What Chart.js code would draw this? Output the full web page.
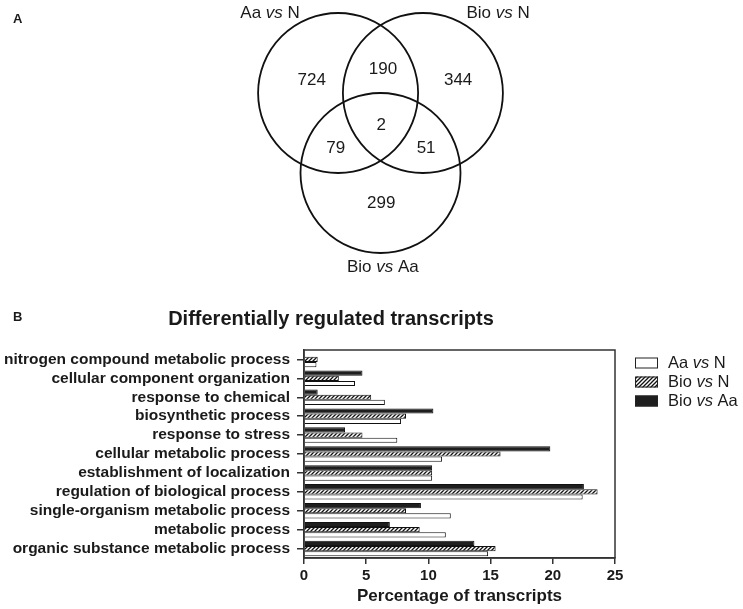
<!DOCTYPE html>
<html>
<head>
<meta charset="utf-8">
<script src="https://cdn.jsdelivr.net/npm/chart.js@4.4.1/dist/chart.umd.min.js"></script>
<style>
  html, body { margin: 0; padding: 0; background: #fff; }
  #page { position: relative; width: 743px; height: 609px; overflow: hidden; }
  #venn { position: absolute; left: 0; top: 0; }
  #bars { position: absolute; left: 0; top: 290px; }
</style>
</head>
<body>
<div id="page">
  <canvas id="venn" width="743" height="290"></canvas>
  <canvas id="bars" width="743" height="319"></canvas>
</div>
<script>
// ---- panel A: Venn diagram (units = circle radius) ----
const VENN_SETS = ['Aa vs N', 'Bio vs N', 'Bio vs Aa'];
const VENN_CX = [-0.53, 0.53, 0];
const VENN_CY = [0.5, 0.5, -0.5];
const VENN_SET_LABEL_X = [-1.38, 1.47, 0.03];
const VENN_SET_LABEL_Y = [1.5, 1.5, -1.675];
const VENN_COUNTS = [724, 190, 344, 2, 79, 51, 299];
const VENN_COUNT_X = [-0.86, 0.03, 0.97, 0.01, -0.56, 0.57, 0.01];
const VENN_COUNT_Y = [0.66, 0.79, 0.66, 0.09, -0.19, -0.19, -0.875];

// ---- panel B: bars ----
const CATEGORIES = [
  'nitrogen compound metabolic process',
  'cellular component organization',
  'response to chemical',
  'biosynthetic process',
  'response to stress',
  'cellular metabolic process',
  'establishment of localization',
  'regulation of biological process',
  'single-organism metabolic process',
  'metabolic process',
  'organic substance metabolic process'
];
const SERIES_NAMES = ['Aa vs N', 'Bio vs N', 'Bio vs Aa'];
const AA_VS_N = [1.0, 4.1, 6.5, 7.8, 7.5, 11.1, 10.3, 22.4, 11.8, 11.4, 14.8];
const BIO_VS_N = [1.1, 2.8, 5.4, 8.2, 4.7, 15.8, 10.3, 23.6, 8.2, 9.3, 15.4];
const BIO_VS_AA = [0, 4.7, 1.1, 10.4, 3.3, 19.8, 10.3, 22.5, 9.4, 6.9, 13.7];
const X_TICKS = [0, 5, 10, 15, 20, 25];

const FONT = '"Liberation Sans", Arial, Helvetica, sans-serif';
const INK = '#1a1a1a';
Chart.defaults.font.family = FONT;
Chart.defaults.color = INK;

// draws "X vs Y" with the "vs" in italics
function draw_vs_text(ctx, text, x, y, size, weight, align){
  let parts = text.split(' vs ');
  let pieces = [[parts[0] + ' ', 'normal'], ['vs', 'italic'], [' ' + parts[1], 'normal']];
  let widths = pieces.map(p => {
    ctx.font = p[1] + ' ' + weight + ' ' + size + 'px ' + FONT;
    return ctx.measureText(p[0]).width;
  });
  let total = widths.reduce((a, b) => a + b, 0);
  let cx = align == 'center' ? x - total / 2 : x;
  ctx.textAlign = 'left';
  ctx.textBaseline = 'middle';
  pieces.forEach((p, i) => {
    ctx.font = p[1] + ' ' + weight + ' ' + size + 'px ' + FONT;
    ctx.fillText(p[0], cx, y);
    cx += widths[i];
  });
}

function hatch_pattern(){
  let c = document.createElement('canvas');
  c.width = 4; c.height = 4;
  let g = c.getContext('2d');
  g.fillStyle = '#fff';
  g.fillRect(0, 0, 4, 4);
  g.strokeStyle = '#111';
  g.lineWidth = 1.3;
  g.beginPath();
  g.moveTo(-1, 5); g.lineTo(5, -1);
  g.moveTo(-1, 1); g.lineTo(1, -1);
  g.moveTo(3, 5); g.lineTo(5, 3);
  g.stroke();
  return g.createPattern(c, 'repeat');
}

//Venn chart
function venn_chart(){
  const radius_px = (ctx) => {
    let s = ctx.chart.scales.x;
    return Math.abs(s.getPixelForValue(1) - s.getPixelForValue(0));
  };
  const venn_labels = {
    id: 'venn_labels',
    afterDatasetsDraw(chart){
      let ctx = chart.ctx;
      let sx = chart.scales.x, sy = chart.scales.y;
      ctx.save();
      ctx.fillStyle = INK;
      ctx.textAlign = 'center';
      ctx.textBaseline = 'middle';
      ctx.font = '17px ' + FONT;
      VENN_COUNTS.forEach((n, i) => {
        ctx.fillText(String(n), sx.getPixelForValue(VENN_COUNT_X[i]), sy.getPixelForValue(VENN_COUNT_Y[i]));
      });
      VENN_SETS.forEach((name, i) => {
        draw_vs_text(ctx, name, sx.getPixelForValue(VENN_SET_LABEL_X[i]), sy.getPixelForValue(VENN_SET_LABEL_Y[i]), 17, 'normal', 'center');
      });
      ctx.font = 'bold 13px ' + FONT;
      ctx.textAlign = 'left';
      ctx.fillText('A', 13, 19);
      ctx.restore();
    }
  };
  new Chart(document.getElementById('venn'), {
    type: 'scatter',
    data: {
      datasets: [{
        data: VENN_CX.map((x, i) => ({x: x, y: VENN_CY[i]})),
        pointRadius: radius_px,
        pointBorderColor: '#111',
        pointBackgroundColor: 'rgba(0,0,0,0)',
        pointBorderWidth: 1.8,
        clip: false
      }]
    },
    options: {
      responsive: false,
      animation: false,
      events: [],
      layout: { padding: 0 },
      plugins: { legend: { display: false }, tooltip: { enabled: false } },
      scales: {
        x: { type: 'linear', display: false, min: -4.756, max: 4.531 },
        y: { type: 'linear', display: false, min: -1.9625, max: 1.6625 }
      }
    },
    plugins: [venn_labels]
  });
}

//Bar chart
function transcripts_chart(){
  const hatch = hatch_pattern();
  const COLORS = ['#fff', hatch, '#1e1e1e'];
  const VALUES = [AA_VS_N, BIO_VS_N, BIO_VS_AA];
  // drawn top to bottom inside each group: Bio vs Aa, Bio vs N, Aa vs N
  const datasets = [2, 1, 0].map(i => ({
    label: SERIES_NAMES[i],
    data: VALUES[i],
    backgroundColor: COLORS[i],
    borderColor: '#111',
    borderWidth: 1,
    borderSkipped: 'start',
    categoryPercentage: 0.82,
    barPercentage: 1.0
  }));

  const frame = {
    id: 'frame',
    afterDraw(chart){
      let ctx = chart.ctx, a = chart.chartArea;
      ctx.save();
      ctx.strokeStyle = '#333';
      ctx.lineWidth = 1.5;
      ctx.strokeRect(a.left, a.top, a.right - a.left, a.bottom - a.top);
      // title and panel letter
      ctx.fillStyle = INK;
      ctx.textAlign = 'center';
      ctx.textBaseline = 'middle';
      ctx.font = 'bold 20px ' + FONT;
      ctx.fillText('Differentially regulated transcripts', 331, 29);
      ctx.font = 'bold 13px ' + FONT;
      ctx.textAlign = 'left';
      ctx.fillText('B', 13, 27);
      // legend
      SERIES_NAMES.forEach((name, i) => {
        let y = 73 + i * 19;
        ctx.fillStyle = COLORS[i];
        ctx.fillRect(635, y - 5.5, 23, 11);
        ctx.strokeStyle = '#222';
        ctx.lineWidth = 1;
        ctx.strokeRect(635.5, y - 5, 22, 10);
        ctx.fillStyle = INK;
        draw_vs_text(ctx, name, 668, y, 16.5, 'normal', 'left');
      });
      ctx.restore();
    }
  };

  new Chart(document.getElementById('bars'), {
    type: 'bar',
    data: { labels: CATEGORIES, datasets: datasets },
    options: {
      indexAxis: 'y',
      responsive: false,
      animation: false,
      events: [],
      layout: { padding: { left: 0, right: 128, top: 60, bottom: 0 } },
      plugins: { legend: { display: false }, tooltip: { enabled: false } },
      scales: {
        x: {
          min: 0, max: 25,
          afterBuildTicks: (s) => { s.ticks = X_TICKS.map(v => ({value: v})); },
          ticks: { font: { size: 15, weight: 'bold' }, color: INK, padding: 3 },
          grid: { drawOnChartArea: false, drawTicks: true, tickLength: 6, color: '#333', lineWidth: 1.5 },
          border: { display: true, color: '#333', width: 1.5 },
          title: { display: true, text: 'Percentage of transcripts', color: INK,
                   font: { size: 17, weight: 'bold' }, padding: { top: 2, bottom: 2 } },
          afterFit: (s) => { s.height = 51; }
        },
        y: {
          ticks: { font: { size: 15.5, weight: 'bold' }, color: INK, padding: 7, autoSkip: false },
          grid: { drawOnChartArea: false, drawTicks: true, tickLength: 7, offset: false, color: '#333', lineWidth: 1.5 },
          border: { display: true, color: '#333', width: 1.5 },
          afterFit: (s) => { s.width = 304; }
        }
      }
    },
    plugins: [frame]
  });
}

venn_chart();
transcripts_chart();
</script>
</body>
</html>
